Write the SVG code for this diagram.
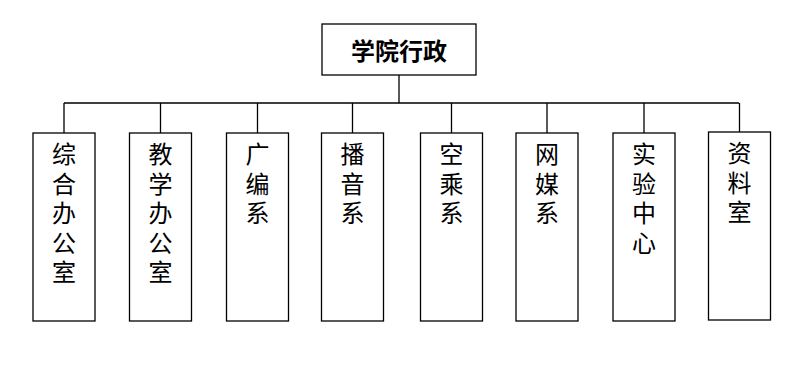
<svg xmlns="http://www.w3.org/2000/svg" width="800" height="371" viewBox="0 0 800 371">
<style>
.box{fill:#fff;stroke:#000;stroke-width:1.3}
.ln{fill:none;stroke:#000;stroke-width:1.3}
.t{font-family:"Noto Sans CJK SC","Noto Sans CJK JP",sans-serif;font-size:24px;fill:#000;writing-mode:vertical-rl;text-orientation:upright;letter-spacing:5.5px}
.h{font-family:"Noto Sans CJK SC","Noto Sans CJK JP",sans-serif;font-size:24px;font-weight:bold;fill:#000;text-anchor:middle}
</style>
<rect width="800" height="371" fill="#fff"/>
<g id="connectors">
<path class="ln" d="M399 75V103M64 103H739M64 103V133M160.5 103V133M257.5 103V133M352.5 103V133M451.5 103V133M547 103V133M644 103V133M739.5 103V132"/>
</g>
<g id="root"><rect class="box" x="322" y="24" width="154" height="51"/><text class="h" x="399" y="60">学院行政</text></g>
<g id="n1"><rect class="box" x="33" y="133" width="62" height="188"/><text class="t" x="64" y="142">综合办公室</text></g>
<g id="n2"><rect class="box" x="129.5" y="133" width="62" height="188"/><text class="t" x="160.5" y="142">教学办公室</text></g>
<g id="n3"><rect class="box" x="226.5" y="133" width="62" height="188"/><text class="t" x="257.5" y="142">广编系</text></g>
<g id="n4"><rect class="box" x="321.5" y="133" width="62" height="188"/><text class="t" x="352.5" y="142">播音系</text></g>
<g id="n5"><rect class="box" x="420.5" y="133" width="62" height="188"/><text class="t" x="451.5" y="142">空乘系</text></g>
<g id="n6"><rect class="box" x="516" y="133" width="62" height="188"/><text class="t" x="547" y="142">网媒系</text></g>
<g id="n7"><rect class="box" x="613" y="133" width="62" height="188"/><text class="t" x="644" y="142">实验中心</text></g>
<g id="n8"><rect class="box" x="708.5" y="132" width="62" height="188"/><text class="t" x="739.5" y="141">资料室</text></g>
</svg>
